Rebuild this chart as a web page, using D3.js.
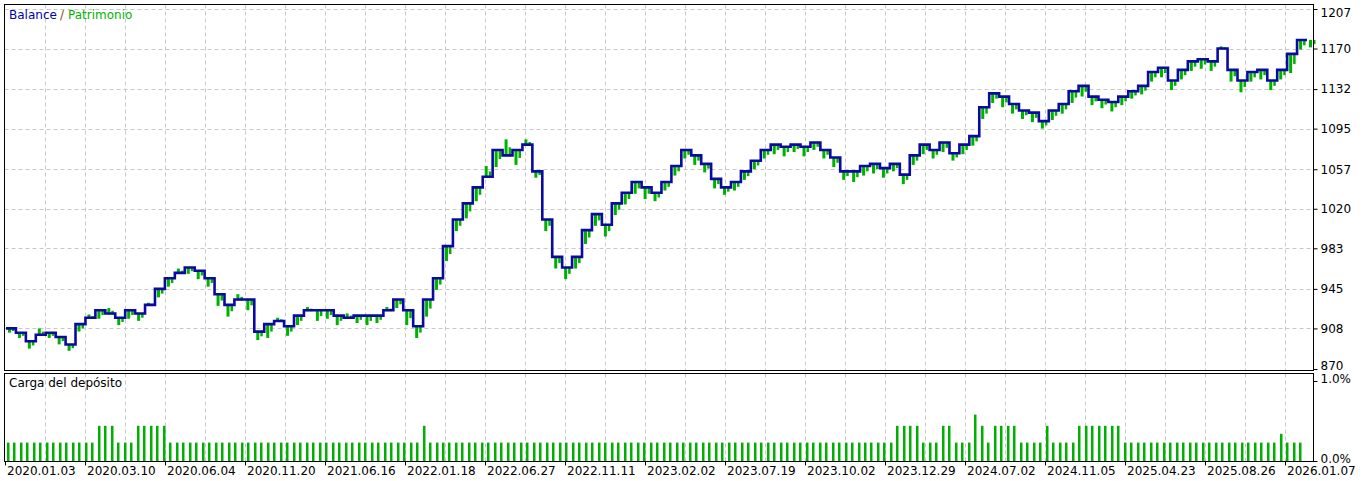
<!DOCTYPE html><html><head><meta charset="utf-8">
<script src="https://cdn.jsdelivr.net/npm/d3@7"></script>
<style>body{margin:0;background:#fff}svg{display:block;font-family:"DejaVu Sans",sans-serif}</style></head><body>
<svg id="c" width="1368" height="481"></svg>
<script>
const balance=[908,904,896,902,904,900,893,912,918,925,922,918,925,922,930,945,955,960,965,962,955,940,930,935,935,905,912,915,910,920,925,925,925,920,918,920,920,920,925,935,925,910,935,955,985,1010,1025,1040,1050,1075,1070,1075,1080,1055,1010,975,965,975,1000,1015,1005,1025,1035,1045,1040,1035,1045,1060,1075,1070,1062,1048,1040,1045,1055,1065,1075,1080,1078,1080,1078,1082,1075,1068,1055,1055,1060,1062,1058,1062,1052,1070,1080,1075,1082,1072,1080,1088,1115,1128,1125,1118,1112,1110,1102,1112,1118,1130,1135,1125,1122,1120,1125,1130,1135,1148,1152,1140,1150,1158,1160,1158,1170,1150,1140,1148,1150,1140,1150,1165,1178,1178];
const equity=[905,900,890,908,900,894,888,906,921,918,927,912,918,916,932,938,948,964,960,955,948,930,920,940,926,898,900,918,902,912,928,916,918,912,922,914,912,914,928,928,912,900,920,945,972,1000,1012,1028,1060,1060,1085,1062,1085,1050,1000,965,955,965,988,1005,995,1015,1025,1035,1030,1028,1038,1052,1068,1062,1055,1040,1034,1038,1048,1058,1068,1072,1070,1074,1070,1076,1068,1060,1048,1046,1052,1054,1050,1056,1044,1062,1072,1068,1074,1066,1072,1080,1105,1120,1116,1110,1105,1102,1096,1104,1110,1120,1126,1118,1115,1112,1118,1124,1128,1140,1144,1132,1142,1150,1152,1150,1172,1140,1130,1140,1142,1132,1142,1148,1170,1172];
const loads=[.23,.23,.23,.23,.23,.23,.23,.23,.23,.23,.23,.23,.23,.23,.44,.44,.44,.23,.23,.23,
.44,.44,.44,.44,.44,.23,.23,.23,.23,.23,.23,.23,.23,.23,.23,.23,.23,.23,.23,.23,
.23,.23,.23,.23,.23,.23,.23,.23,.23,.23,.23,.23,.23,.23,.23,.23,.23,.23,.23,.23,
.23,.23,.23,.23,.44,.23,.23,.23,.23,.23,.23,.23,.23,.23,.23,.23,.23,.23,.23,.23,
.23,.23,.23,.23,.23,.23,.23,.23,.23,.23,.23,.23,.23,.23,.23,.23,.23,.23,.23,.23,
.23,.23,.23,.23,.23,.23,.23,.23,.23,.23,.23,.23,.23,.23,.23,.23,.23,.23,.23,.23,
.23,.23,.23,.23,.23,.23,.23,.23,.23,.23,.23,.23,.23,.23,.23,.23,.23,.44,.44,.44,
.44,.23,.23,.23,.44,.44,.23,.23,.23,.58,.44,.23,.44,.44,.44,.44,.23,.23,.23,.23,
.44,.23,.23,.23,.23,.44,.44,.44,.44,.44,.44,.44,.23,.23,.23,.23,.23,.23,.23,.23,
.23,.23,.23,.23,.23,.23,.23,.23,.23,.23,.23,.23,.23,.23,.23,.23,.34,.23,.23,.23];
const yTicks=[870,908,945,983,1020,1057,1095,1132,1170,1207];
const dateLabels=["2020.01.03","2020.03.10","2020.06.04","2020.11.20","2021.06.16","2022.01.18","2022.06.27","2022.11.11","2023.02.02","2023.07.19","2023.10.02","2023.12.29","2024.07.02","2024.11.05","2025.04.23","2025.08.26","2026.01.07"];

const svg=d3.select("#c");
const L=4.5,R=1313.5,T=4.5,MB=370.5,LT=373.5,LB=461.5;
const x=d3.scaleLinear().domain([0,balance.length-1]).range([6,1307]);
const y=d3.scaleLinear().domain([870,1207]).range([369,9]);
const yl=d3.scaleLinear().domain([0,1]).range([461,381]);
const xb=d3.scaleLinear().domain([0,loads.length-1]).range([7,1299]);
const gridX=d3.range(45,1300,40);
const g=svg.append("g");
gridX.forEach(gx=>{
 g.append("line").attr("x1",gx+.5).attr("x2",gx+.5).attr("y1",T).attr("y2",MB).attr("stroke","#c8c8c8").attr("stroke-dasharray","4,3");
 g.append("line").attr("x1",gx+.5).attr("x2",gx+.5).attr("y1",LT).attr("y2",LB).attr("stroke","#c8c8c8").attr("stroke-dasharray","4,3");
});
yTicks.forEach(v=>{ if(v>870) g.append("line").attr("x1",L).attr("x2",R).attr("y1",Math.round(y(v))+.5).attr("y2",Math.round(y(v))+.5).attr("stroke","#c8c8c8").attr("stroke-dasharray","4,3");});
const line=d3.line().x((d,i)=>x(i)).y(d=>y(d)).curve(d3.curveStepAfter);
// equity excursions as green spikes within each step
svg.selectAll("rect.eq").data(equity).enter().append("rect")
 .attr("x",(d,i)=>x(i)+2).attr("width",3)
 .attr("y",(d,i)=>Math.min(y(d),y(balance[i]))).attr("height",(d,i)=>Math.abs(y(d)-y(balance[i]))+1)
 .attr("fill","#00b000");
svg.selectAll("rect.eq2").data(equity).enter().append("rect")
 .attr("x",(d,i)=>x(i)+6).attr("width",2.5)
 .attr("y",(d,i)=>Math.min(y((d+balance[i])/2),y(balance[i]))).attr("height",(d,i)=>Math.abs(y((d+balance[i])/2)-y(balance[i]))+1)
 .attr("fill","#00b000");
svg.append("path").datum(balance).attr("d",line).attr("fill","none").attr("stroke","#0a0aa0").attr("stroke-width",2.6);
svg.selectAll("rect.ld").data(loads).enter().append("rect").attr("x",(d,i)=>Math.round(xb(i))).attr("width",2.5)
 .attr("y",d=>yl(d)).attr("height",d=>yl(0)-yl(d)).attr("fill","#00b000");
// frames
svg.append("rect").attr("x",L).attr("y",T).attr("width",R-L).attr("height",MB-T).attr("fill","none").attr("stroke","#000");
svg.append("rect").attr("x",L).attr("y",LT).attr("width",R-L).attr("height",LB-LT).attr("fill","none").attr("stroke","#000");
// right axis
const ax=svg.append("g").attr("transform",`translate(${R},0)`).call(d3.axisRight(y).tickValues(yTicks).tickSize(4).tickFormat(d3.format("d")));
ax.select(".domain").remove();
ax.selectAll("text").attr("font-size",12).attr("fill","#000").attr("font-family","DejaVu Sans");
ax.selectAll("text").filter(d=>d===1207).attr("dy","0.6em");
ax.selectAll("text").filter(d=>d===870).attr("dy","0.05em");
const al=svg.append("g").attr("transform",`translate(${R},0)`).call(d3.axisRight(yl).tickValues([0,1]).tickSize(4).tickFormat(d=>d.toFixed(1)+"%"));
al.select(".domain").remove();
al.selectAll("text").attr("font-size",12).attr("fill","#000").attr("font-family","DejaVu Sans");
al.selectAll("text").attr("dy","0.1em");
// bottom labels
dateLabels.forEach((t,i)=>{const tx=5+i*80;
 svg.append("line").attr("x1",tx+.5).attr("x2",tx+.5).attr("y1",LB).attr("y2",LB+4).attr("stroke","#000");
 svg.append("text").attr("x",tx+2).attr("y",475).attr("font-size",12).text(t);});
svg.append("text").attr("x",9).attr("y",19).attr("font-size",12).attr("fill","#0000b4").text("Balance");
svg.append("text").attr("x",60).attr("y",19).attr("font-size",12).attr("fill","#a04000").text("/");
svg.append("text").attr("x",68).attr("y",19).attr("font-size",12).attr("fill","#00b400").text("Patrimonio");
svg.append("text").attr("x",9).attr("y",387).attr("font-size",12).attr("fill","#000").text("Carga del depósito");
</script></body></html>
